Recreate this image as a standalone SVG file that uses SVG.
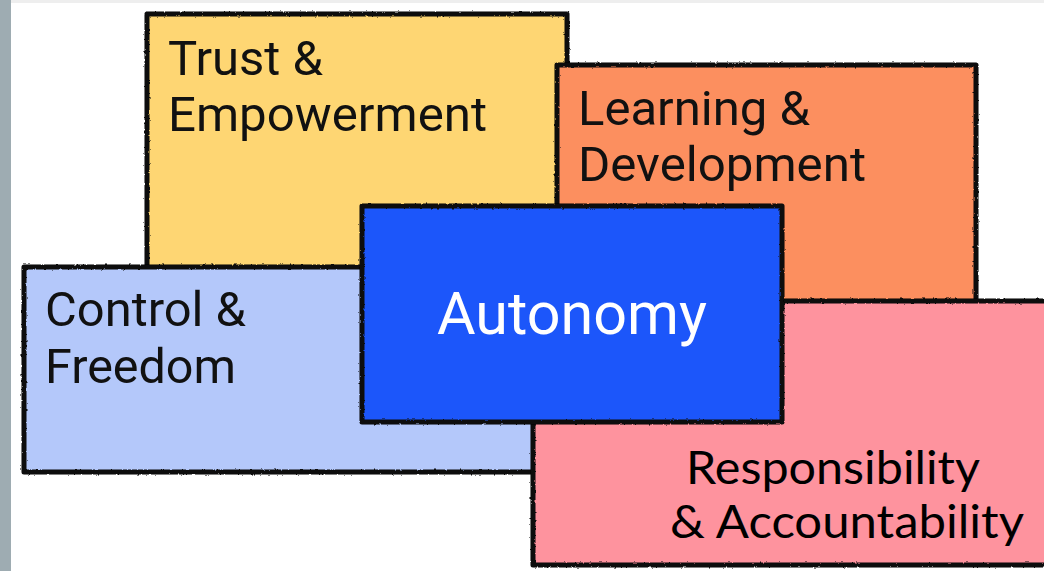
<svg xmlns="http://www.w3.org/2000/svg" width="1044" height="571" viewBox="0 0 1044 571">
  <defs>
    <filter id="rough" x="-5%" y="-5%" width="110%" height="110%">
      <feTurbulence type="fractalNoise" baseFrequency="0.35" numOctaves="2" seed="3" result="n"/>
      <feDisplacementMap in="SourceGraphic" in2="n" scale="2.4" xChannelSelector="R" yChannelSelector="G"/>
    </filter>
  </defs>
  <style>
    .box { stroke: #0a0a0a; stroke-width: 5; stroke-linejoin: round; filter: url(#rough); }
    .lbl { font-family: Roboto, "Liberation Sans", sans-serif; font-size: 49px; fill: #111; }
    .cal { font-family: Lato, "Liberation Sans", sans-serif; font-size: 46px; fill: #000; }
    .auto { font-family: Roboto, "Liberation Sans", sans-serif; font-size: 59px; fill: #ffffff; }
  </style>
  <rect x="0" y="0" width="1044" height="571" fill="#ffffff"/>
  <rect x="0" y="0" width="1044" height="3" fill="#eeeeee"/>
  <rect x="0" y="0" width="11" height="571" fill="#9eacb2"/>

  <g id="trust">
    <rect class="box" x="147" y="14" width="420" height="262" fill="#FED673"/>
    <text class="lbl" x="168" y="75" textLength="155" lengthAdjust="spacingAndGlyphs">Trust &amp;</text>
    <text class="lbl" x="168" y="131" textLength="319" lengthAdjust="spacingAndGlyphs">Empowerment</text>
  </g>
  <g id="learning">
    <rect class="box" x="557" y="65" width="419" height="237" fill="#FC8F5F"/>
    <text class="lbl" x="578" y="125" textLength="232" lengthAdjust="spacingAndGlyphs">Learning &amp;</text>
    <text class="lbl" x="578" y="181" textLength="288" lengthAdjust="spacingAndGlyphs">Development</text>
  </g>
  <g id="control">
    <rect class="box" x="24" y="267" width="520" height="205" fill="#B4C8FA"/>
    <text class="lbl" x="45" y="326" textLength="201" lengthAdjust="spacingAndGlyphs">Control &amp;</text>
    <text class="lbl" x="45" y="383" textLength="191" lengthAdjust="spacingAndGlyphs">Freedom</text>
  </g>
  <g id="responsibility">
    <rect class="box" x="533" y="301" width="530" height="264" fill="#FE939E"/>
    <text class="cal" x="686" y="484" textLength="294" lengthAdjust="spacingAndGlyphs">Responsibility</text>
    <text class="cal" x="670" y="538" textLength="354" lengthAdjust="spacingAndGlyphs">&amp; Accountability</text>
  </g>
  <g id="autonomy">
    <rect class="box" x="362" y="206" width="420" height="216" fill="#1A57FA"/>
    <text class="auto" x="437" y="334" textLength="270" lengthAdjust="spacingAndGlyphs">Autonomy</text>
  </g>
  <g id="connectors"></g>
</svg>
